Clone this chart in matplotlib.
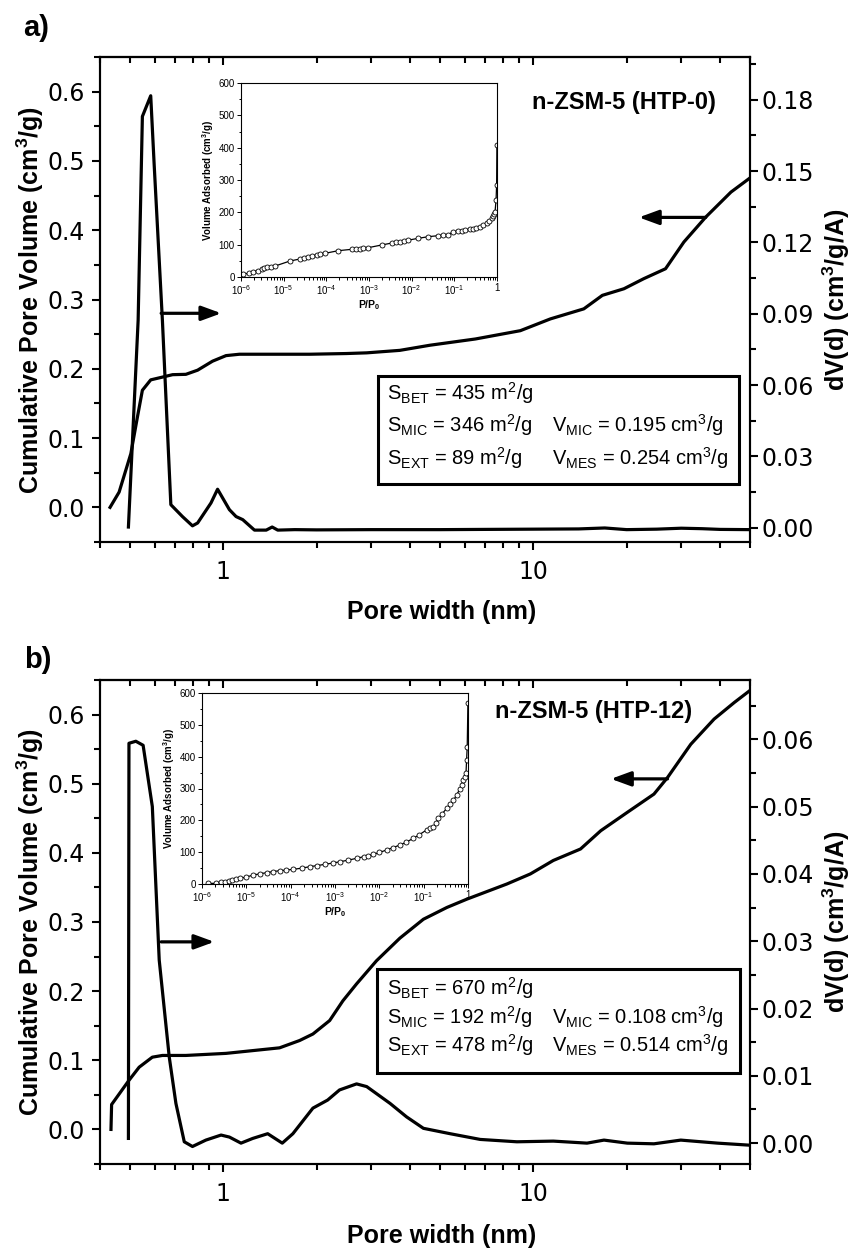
import matplotlib.pyplot as plt
from matplotlib.ticker import MultipleLocator, NullFormatter, FuncFormatter, FormatStrFormatter, LogLocator

plt.rcParams['font.family'] = ['Liberation Sans', 'DejaVu Sans']
plt.rcParams['mathtext.default'] = 'regular'

# ---- panel a: n-ZSM-5 (HTP-0) ----
a_cum_w = [0.431, 0.461, 0.503, 0.528, 0.548, 0.583, 0.636, 0.686, 0.757, 0.826, 0.923, 1.02, 1.127,
           1.375, 1.9, 2.49, 2.9, 3.71, 4.64, 6.5, 9.08, 11.35, 14.55, 16.7, 19.6, 22.7, 26.7, 30.6,
           36.0, 43.4, 50.4]
a_cum_v = [0.0, 0.022, 0.0775, 0.13, 0.169, 0.184, 0.188, 0.1915, 0.192, 0.198, 0.211, 0.219, 0.221,
           0.221, 0.221, 0.222, 0.223, 0.2266, 0.234, 0.243, 0.255, 0.272, 0.2865, 0.306, 0.3155, 0.33,
           0.3444, 0.383, 0.419, 0.455, 0.4766]
a_psd_w = [0.494, 0.531, 0.548, 0.583, 0.598, 0.636, 0.677, 0.738, 0.795, 0.826, 0.912, 0.958, 1.046,
           1.099, 1.155, 1.26, 1.375, 1.437, 1.498, 1.7, 2.0, 3.0, 5.0, 7.0, 10.0, 14.0, 17.0, 20.0,
           25.0, 30.0, 35.0, 40.0, 50.0]
a_psd_v = [0.0003, 0.0873, 0.173, 0.1817, 0.153, 0.087, 0.0097, 0.0047, 0.0008, 0.002, 0.0104, 0.0162,
           0.0076, 0.0047, 0.0034, -0.001, -0.001, 0.0003, -0.001, -0.0008, -0.0009, -0.0008, -0.0008,
           -0.0007, -0.0006, -0.0005, -0.0001, -0.0008, -0.0006, -0.0002, -0.0004, -0.0007, -0.0008]
a_iso_p = [1.1e-6, 1.5e-6, 1.95e-6, 2.5e-6, 3.05e-6, 3.5e-6, 4.0e-6, 5.0e-6, 6.3e-6, 1.41e-5, 2.41e-5,
           3.0e-5, 3.79e-5, 4.6e-5, 5.9e-5, 7.0e-5, 9.3e-5, 1.91e-4, 3.93e-4, 5.0e-4, 6.0e-4, 7.4e-4,
           9.6e-4, 1.98e-3, 3.4e-3, 4.3e-3, 5.3e-3, 6.5e-3, 8.3e-3, 1.43e-2, 2.45e-2, 4.2e-2, 5.5e-2,
           7.2e-2, 0.0946, 0.12, 0.15, 0.18, 0.233, 0.28, 0.33, 0.4, 0.48, 0.573, 0.65, 0.75, 0.82, 0.87,
           0.90, 0.95, 0.98, 0.995]
a_iso_v = [8.2, 12, 16.5, 20, 23.7, 27, 29.9, 32, 34, 49.5, 55.7, 59, 62.9, 65.5, 68, 70, 73.2, 81.4,
           85.6, 87, 88, 88.7, 90.7, 99, 105, 107, 109, 111, 114, 119.6, 124.7, 127.8, 129.5, 131, 140,
           141.5, 143.5, 145.5, 147.5, 150, 152.5, 155.7, 160, 166, 172, 181.5, 189, 195, 202, 238, 285, 408]
a_box_left = ["S$_{BET}$ = 435 m$^{2}$/g", "S$_{MIC}$ = 346 m$^{2}$/g", "S$_{EXT}$ = 89 m$^{2}$/g"]
a_box_right = ["", "V$_{MIC}$ = 0.195 cm$^{3}$/g", "V$_{MES}$ = 0.254 cm$^{3}$/g"]

# ---- panel b: n-ZSM-5 (HTP-12) ----
b_cum_w = [0.434, 0.436, 0.496, 0.535, 0.590, 0.636, 0.757, 1.02, 1.244, 1.518, 1.762, 1.945, 2.203,
           2.43, 2.69, 3.12, 3.71, 4.42, 5.26, 6.1, 8.22, 9.78, 11.6, 14.2, 16.5, 20.1, 24.5, 27.1,
           32.2, 38.3, 44.5, 49.7]
b_cum_v = [0.0, 0.036, 0.071, 0.090, 0.1045, 0.107, 0.107, 0.110, 0.114, 0.118, 0.1286, 0.138, 0.1575,
           0.186, 0.2105, 0.244, 0.2766, 0.304, 0.321, 0.333, 0.355, 0.3695, 0.389, 0.4056, 0.432,
           0.4586, 0.485, 0.509, 0.557, 0.5935, 0.6175, 0.634]
b_psd_w = [0.494, 0.496, 0.522, 0.551, 0.590, 0.621, 0.669, 0.703, 0.748, 0.795, 0.878, 0.983, 1.046,
           1.14, 1.244, 1.39, 1.549, 1.676, 1.945, 2.17, 2.37, 2.69, 2.9, 3.45, 3.9, 4.42, 5.39, 6.74,
           8.85, 11.6, 14.9, 16.9, 20.1, 24.5, 29.9, 39.3, 49.7]
b_psd_v = [0.0007, 0.0594, 0.0597, 0.0591, 0.050, 0.0272, 0.0128, 0.0059, 0.0002, -0.0005, 0.00045,
           0.0012, 0.0009, 0.0, 0.0007, 0.0014, 0.0, 0.0014, 0.0052, 0.0064, 0.0079, 0.0088, 0.0084,
           0.0059, 0.0039, 0.0022, 0.0014, 0.00055, 0.0002, 0.0003, 0.0, 0.00045, 0.0, -0.0001, 0.00045,
           0.0, -0.0003]
b_iso_p = [1.39e-6, 2.1e-6, 2.7e-6, 3.3e-6, 4.0e-6, 4.7e-6, 5.8e-6, 7.2e-6, 1.0e-5, 1.44e-5, 2.0e-5,
           2.88e-5, 4.0e-5, 5.75e-5, 8.0e-5, 1.15e-4, 1.8e-4, 2.73e-4, 4.0e-4, 5.95e-4, 9.0e-4, 1.3e-3,
           2.0e-3, 3.08e-3, 4.5e-3, 5.5e-3, 7.3e-3, 1.0e-2, 1.46e-2, 2.0e-2, 2.92e-2, 4.0e-2, 5.85e-2,
           0.08, 0.117, 0.14, 0.165, 0.19, 0.214, 0.26, 0.33, 0.4, 0.47, 0.555, 0.65, 0.72, 0.78, 0.84,
           0.90, 0.93, 0.96, 0.995]
b_iso_v = [2, 2, 5, 7.3, 10, 12.6, 15, 17.8, 22, 28, 32, 35.6, 39, 41.9, 44, 46, 50, 54.5, 58, 61.8,
           66, 70, 75, 80.7, 86, 89, 93, 99, 106.8, 114, 122.5, 131, 143.5, 155, 170, 176, 180, 192, 206,
           220, 237.6, 250, 263, 279.6, 298, 312, 326.7, 336, 347.7, 389.6, 431, 567.7]
b_box_left = ["S$_{BET}$ = 670 m$^{2}$/g", "S$_{MIC}$ = 192 m$^{2}$/g", "S$_{EXT}$ = 478 m$^{2}$/g"]
b_box_right = ["", "V$_{MIC}$ = 0.108 cm$^{3}$/g", "V$_{MES}$ = 0.514 cm$^{3}$/g"]

W, H = 853, 1252
fig = plt.figure(figsize=(W / 100, H / 100), dpi=100)

TICKFONT = dict(family='DejaVu Sans', size=17)
LW_SPINE = 1.5


def px(x0, y0, x1, y1):
    # pixel box (top-left origin) -> figure fraction rect
    return [x0 / W, 1 - y1 / H, (x1 - x0) / W, (y1 - y0) / H]


def main_axes(rect, cum_w, cum_v, psd_w, psd_v, rlim, rstep, title, title_xy,
              box, box_left, box_right, row_y, arrow_r, arrow_l):
    ax = fig.add_axes(rect)
    ax.plot(cum_w, cum_v, color='k', lw=2.3, solid_joinstyle='round')
    ax.set_xscale('log')
    ax.set_xlim(0.4, 50)
    ax.set_ylim(-0.05, 0.65)
    ax.yaxis.set_major_locator(MultipleLocator(0.1))
    ax.yaxis.set_minor_locator(MultipleLocator(0.05))
    ax.yaxis.set_major_formatter(FormatStrFormatter('%.1f'))
    ax.xaxis.set_major_formatter(FuncFormatter(lambda v, _: f"{v:g}"))
    ax.xaxis.set_minor_formatter(NullFormatter())
    ax.tick_params(which='both', direction='out', width=LW_SPINE, top=False)
    ax.tick_params(which='major', length=6)
    ax.tick_params(which='minor', length=4)
    ax.tick_params(axis='y', pad=5)
    ax.tick_params(axis='x', pad=7)

    ax2 = ax.twinx()
    ax2.plot(psd_w, psd_v, color='k', lw=2.3, solid_joinstyle='round')
    ax2.set_ylim(*rlim)
    ax2.yaxis.set_major_locator(MultipleLocator(rstep))
    ax2.yaxis.set_minor_locator(MultipleLocator(rstep / 2))
    ax2.yaxis.set_major_formatter(FormatStrFormatter('%.2f'))
    ax2.tick_params(which='both', direction='out', width=LW_SPINE, pad=2)
    ax2.tick_params(which='major', length=6)
    ax2.tick_params(which='minor', length=4)

    sec = ax.secondary_xaxis('top')
    sec.tick_params(which='both', direction='in', width=LW_SPINE, labeltop=False)
    sec.tick_params(which='major', length=6)
    sec.tick_params(which='minor', length=4)
    sec.xaxis.set_minor_locator(LogLocator(subs=range(2, 10)))

    for a in (ax, ax2, sec):
        for s in a.spines.values():
            s.set_linewidth(LW_SPINE)
        for lab in a.get_xticklabels() + a.get_yticklabels():
            lab.set_fontfamily(TICKFONT['family'])
            lab.set_fontsize(TICKFONT['size'])

    ax.text(title_xy[0], title_xy[1], title, transform=ax.transAxes, ha='center', va='center',
            fontsize=17, fontweight='bold')

    # parameter box
    x0, y0, x1, y1 = box
    ax.add_patch(plt.Rectangle((x0, y0), x1 - x0, y1 - y0, transform=ax.transAxes, fill=False,
                               lw=2.2, ec='k', zorder=5))
    for yy, tl, tr in zip(row_y, box_left, box_right):
        ax.text(0.4415, yy, tl, transform=ax.transAxes, va='center', fontsize=14.5)
        ax.text(0.696, yy, tr, transform=ax.transAxes, va='center', fontsize=14.5)

    arrow = dict(arrowstyle='-|>,head_length=0.6,head_width=0.22', lw=2.3, color='k',
                 mutation_scale=20, shrinkA=0, shrinkB=0)
    ax2.annotate('', xy=arrow_r[1], xytext=arrow_r[0], arrowprops=arrow)
    ax.annotate('', xy=arrow_l[1], xytext=arrow_l[0], arrowprops=arrow)
    return ax


def inset(rect, p, v):
    ins = fig.add_axes(rect)
    ins.plot(p, v, '-o', color='k', lw=0.9, ms=3.6, mfc='white', mec='k', mew=0.6)
    ins.set_xscale('log')
    ins.set_xlim(1e-6, 1)
    ins.set_ylim(0, 600)
    ins.yaxis.set_major_locator(MultipleLocator(100))
    ins.yaxis.set_minor_locator(MultipleLocator(50))
    ins.xaxis.set_major_locator(LogLocator(numticks=10))
    ins.xaxis.set_minor_locator(LogLocator(subs=range(2, 10), numticks=20))
    ins.xaxis.set_minor_formatter(NullFormatter())
    ins.xaxis.set_major_formatter(FuncFormatter(
        lambda val, _: "1" if val >= 1 else "10$^{%d}$" % round(__import__('math').log10(val))))
    ins.tick_params(which='both', direction='out', width=0.7, labelsize=7, pad=1.5)
    ins.tick_params(which='major', length=3)
    ins.tick_params(which='minor', length=1.8)
    for s in ins.spines.values():
        s.set_linewidth(0.8)
    ins.set_ylabel("Volume Adsorbed (cm$^{3}$/g)", fontsize=7, fontweight='bold', labelpad=2)
    ins.set_xlabel("P/P$_{0}$", fontsize=7.5, fontweight='bold', labelpad=1)
    return ins


# panel a
main_axes(px(100, 57, 750, 542), a_cum_w, a_cum_v, a_psd_w, a_psd_v, (-0.006, 0.198), 0.03,
          "n-ZSM-5 (HTP-0)", (0.806, 0.907), (0.4277, 0.1196, 0.983, 0.3423),
          a_box_left, a_box_right, (0.307, 0.241, 0.173),
          ((0.63, 0.0902), (0.985, 0.0902)), ((36.0, 0.4185), (21.9, 0.4185)))
inset(px(241, 83, 497, 277), a_iso_p, a_iso_v)

# panel b
main_axes(px(100, 680, 750, 1164), b_cum_w, b_cum_v, b_psd_w, b_psd_v, (-0.0031, 0.0688), 0.01,
          "n-ZSM-5 (HTP-12)", (0.759, 0.934), (0.426, 0.188, 0.9846, 0.4029),
          b_box_left, b_box_right, (0.3636, 0.3037, 0.2459),
          ((0.63, 0.0299), (0.935, 0.0299)), ((27.1, 0.507), (17.8, 0.507)))
inset(px(202, 693, 468, 884), b_iso_p, b_iso_v)

# panel letters and axis labels
for letter, (x, y) in (("a)", (36, 28)), ("b)", (38, 660))):
    fig.text(x / W, 1 - y / H, letter, ha='center', va='center', fontsize=21, fontweight='bold')

for yc in (300, 922):
    fig.text(30 / W, 1 - yc / H, "Cumulative Pore Volume (cm$^{3}$/g)", rotation=90,
             ha='center', va='center', fontsize=18, fontweight='bold')
    fig.text(836 / W, 1 - yc / H, "dV(d) (cm$^{3}$/g/A)", rotation=90,
             ha='center', va='center', fontsize=18, fontweight='bold')

for yc in (612, 1236):
    fig.text(442 / W, 1 - yc / H, "Pore width (nm)", ha='center', va='center',
             fontsize=18, fontweight='bold')

fig.savefig('out.png', dpi=100)
